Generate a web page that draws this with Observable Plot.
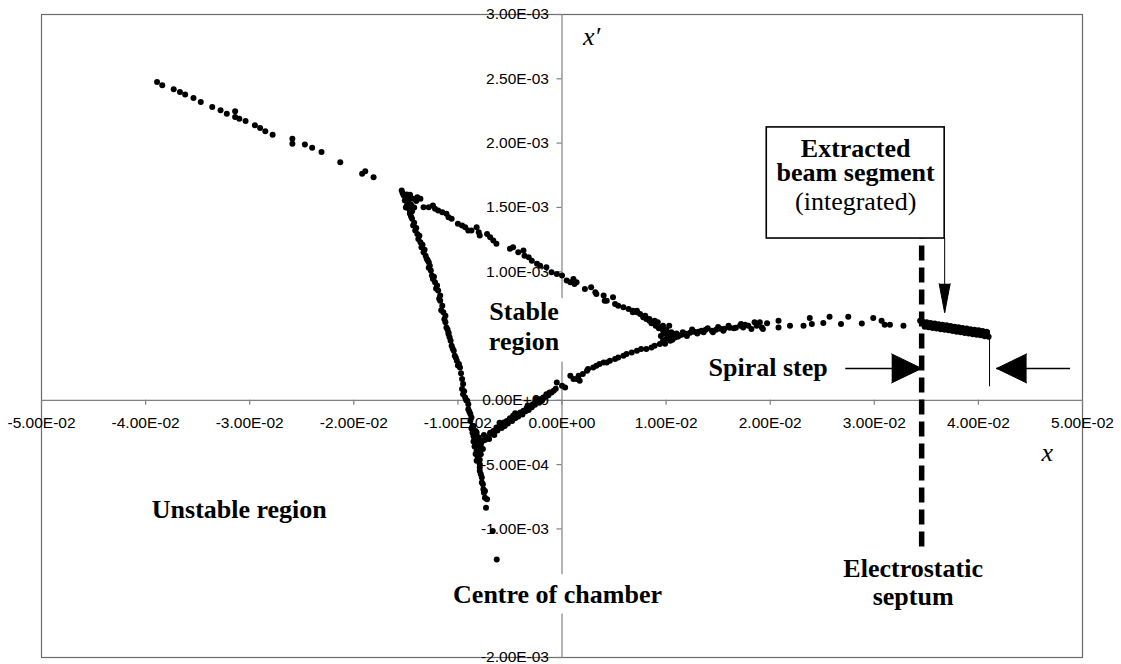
<!DOCTYPE html>
<html>
<head>
<meta charset="utf-8">
<script src="https://cdn.jsdelivr.net/npm/d3@7"></script>
<script src="https://cdn.jsdelivr.net/npm/@observablehq/plot@0.6"></script>
<style>
  html, body { margin: 0; padding: 0; background: #fff; }
  #chart svg { display: block; }
</style>
</head>
<body>
<div id="chart"></div>
<script>
// Units in the point lists: x in 1e-2, x' in 1e-3
const X_UNIT = 1e-2, Y_UNIT = 1e-3;

const xTicks = [-0.05, -0.04, -0.03, -0.02, -0.01, 0, 0.01, 0.02, 0.03, 0.04, 0.05];
const yTicks = [-0.002, -0.0015, -0.001, -0.0005, 0, 0.0005, 0.001, 0.0015, 0.002, 0.0025, 0.003];
// y tick labels that the reference's text boxes hide
const yHiddenLabels = [0.0005, -0.0015];

const upperTail = [[-3.89,2.475],[-3.84,2.449],[-3.73,2.418],[-3.67,2.397],[-3.62,2.377],[-3.54,2.350],[-3.47,2.319],[-3.36,2.280],[-3.28,2.255],[-3.22,2.229],[-3.14,2.247],[-3.14,2.202],[-3.10,2.190],[-3.04,2.171],[-2.95,2.138],[-2.90,2.117],[-2.85,2.093],[-2.78,2.065],[-2.59,2.034],[-2.59,1.995],[-2.47,1.990],[-2.40,1.964],[-2.31,1.930],[-2.13,1.852],[-1.92,1.762],[-1.89,1.782],[-1.81,1.735]];

const leftVertex = [[-1.54,1.632],[-1.52,1.593],[-1.51,1.554],[-1.49,1.515],[-1.47,1.489],[-1.46,1.598],[-1.43,1.567],[-1.39,1.579],[-1.36,1.567],[-1.50,1.58],[-1.48,1.54],[-1.45,1.52],[-1.47,1.56],[-1.42,1.50],[-1.44,1.47],[-1.49,1.60],[-1.40,1.55],[-1.53,1.61],[-1.50,1.50],[-1.46,1.45]];

const upperEdge = [[-1.33,1.502],[-1.28,1.502],[-1.24,1.515],[-1.22,1.489],[-1.19,1.476],[-1.15,1.463],[-1.11,1.450],[-1.09,1.424],[-1.06,1.411],[-1.00,1.372],[-0.96,1.359],[-0.93,1.346],[-0.90,1.320],[-0.87,1.320],[-0.82,1.346],[-0.80,1.307],[-0.79,1.281],[-0.72,1.294],[-0.69,1.268],[-0.66,1.242],[-0.63,1.217],[-0.50,1.178],[-0.47,1.190],[-0.42,1.151],[-0.37,1.164],[-0.36,1.125],[-0.32,1.112],[-0.29,1.086],[-0.24,1.061],[-0.21,1.047],[-0.15,1.034],[-0.10,0.995],[-0.05,0.983],[0.00,0.970],[0.045,0.931],[0.08,0.917],[0.11,0.944],[0.14,0.917],[0.12,0.905],[0.22,0.866],[0.28,0.879],[0.32,0.840],[0.33,0.827],[0.40,0.814],[0.41,0.775],[0.43,0.775],[0.49,0.801],[0.51,0.749],[0.54,0.736],[0.59,0.723],[0.64,0.710],[0.68,0.697],[0.68,0.684],[0.72,0.684],[0.72,0.697],[0.75,0.671],[0.78,0.645],[0.80,0.658],[0.81,0.632],[0.84,0.619],[0.84,0.632],[0.88,0.606],[0.89,0.619],[0.91,0.580],[0.92,0.606],[0.94,0.567],[0.97,0.541],[0.97,0.580],[1.00,0.528],[1.04,0.516],[1.07,0.516]];

const lowerLeftEdge = [[-1.46,1.463],[-1.44,1.411],[-1.43,1.359],[-1.41,1.320],[-1.39,1.294],[-1.38,1.255],[-1.36,1.229],[-1.35,1.190],[-1.33,1.151],[-1.31,1.125],[-1.30,1.100],[-1.28,1.073],[-1.27,1.047],[-1.26,1.009],[-1.25,0.970],[-1.24,0.944],[-1.22,0.917],[-1.20,0.892],[-1.19,0.853],[-1.17,0.814],[-1.17,0.775],[-1.15,0.736],[-1.14,0.684],[-1.12,0.658],[-1.12,0.606],[-1.11,0.567],[-1.09,0.528],[-1.09,0.516],[-1.07,0.463],[-1.06,0.424],[-1.04,0.386],[-1.03,0.347],[-1.01,0.308],[-0.99,0.282],[-0.98,0.255],[-0.97,0.21],[-0.96,0.165],[-0.95,0.126],[-0.96,0.087],[-0.95,0.048],[-0.93,0.022],[-0.91,-0.004],[-0.90,-0.030],[-0.90,-0.069],[-0.88,-0.107],[-0.87,-0.134],[-1.45,1.43],[-1.42,1.38],[-1.40,1.34],[-1.37,1.28],[-1.34,1.21],[-1.32,1.17],[-1.29,1.09],[-1.28,1.03],[-1.23,0.96],[-1.21,0.87],[-1.18,0.79],[-1.16,0.70],[-1.13,0.63],[-1.10,0.55],[-1.08,0.49],[-1.05,0.40],[-1.02,0.33],[-1.00,0.27],[-0.94,0.07],[-0.92,0.00],[-0.89,-0.09]];

const bottomCusp = [[-0.88,-0.160],[-0.85,-0.199],[-0.83,-0.238],[-0.86,-0.253],[-0.82,-0.276],[-0.84,-0.300],[-0.80,-0.315],[-0.83,-0.339],[-0.78,-0.347],[-0.81,-0.370],[-0.76,-0.378],[-0.79,-0.401],[-0.83,-0.417],[-0.81,-0.440],[-0.79,-0.463],[-0.82,-0.471],[-0.77,-0.323],[-0.74,-0.308],[-0.75,-0.269],[-0.71,-0.292],[-0.69,-0.253],[-0.86,-0.20],[-0.84,-0.36],[-0.80,-0.43],[-0.87,-0.22],[-0.85,-0.28],[-0.82,-0.25],[-0.80,-0.29],[-0.78,-0.31],[-0.85,-0.32],[-0.82,-0.39],[-0.78,-0.42]];

const bottomTail = [[-0.79,-0.497],[-0.79,-0.523],[-0.79,-0.549],[-0.78,-0.575],[-0.77,-0.601],[-0.77,-0.640],[-0.76,-0.653],[-0.755,-0.692],[-0.74,-0.705],[-0.75,-0.718],[-0.74,-0.757],[-0.72,-0.770],[-0.73,-0.835],[-0.665,-1.016],[-0.627,-1.237]];

const lowerRightEdge = [[-0.72,-0.290],[-0.69,-0.263],[-0.66,-0.238],[-0.63,-0.212],[-0.60,-0.199],[-0.56,-0.173],[-0.53,-0.160],[-0.50,-0.139],[-0.47,-0.121],[-0.43,-0.107],[-0.40,-0.095],[-0.37,-0.082],[-0.34,-0.061],[-0.31,-0.043],[-0.28,-0.030],[-0.24,-0.009],[-0.21,0.009],[-0.18,0.022],[-0.15,0.048],[-0.12,0.061],[-0.08,0.074],[-0.05,0.139],[0.00,0.113],[0.03,0.100],[0.08,0.191],[0.14,0.165],[0.20,0.204],[0.24,0.230],[-0.70,-0.300],[-0.65,-0.270],[-0.62,-0.235],[-0.58,-0.215],[-0.55,-0.200],[-0.52,-0.180],[-0.48,-0.160],[-0.45,-0.140],[-0.42,-0.125],[-0.38,-0.110],[-0.35,-0.085],[-0.32,-0.075],[-0.29,-0.055],[-0.26,-0.035],[-0.22,-0.020],[-0.19,0.000],[-0.16,0.025],[-0.13,0.040],[-0.10,0.060],[-0.06,0.090],[-0.25,0.010],[-0.33,-0.040],[-0.45,-0.100],[-0.60,-0.175],[0.11,0.165],[0.16,0.191],[0.17,0.152],[0.25,0.243],[0.30,0.255],[0.33,0.269],[0.36,0.282],[0.40,0.294],[0.43,0.294],[0.46,0.308],[0.51,0.321],[0.54,0.333],[0.59,0.347],[0.62,0.360],[0.67,0.372],[0.72,0.386],[0.76,0.399],[0.81,0.399],[0.86,0.411],[0.89,0.424],[0.94,0.438],[0.97,0.463],[1.00,0.477]];

const rightCusp = [[0.99,0.440],[1.04,0.463],[1.08,0.487],[1.06,0.502],[1.02,0.518],[1.11,0.495],[1.15,0.510],[1.19,0.518],[1.23,0.526],[1.27,0.533],[1.31,0.533],[1.34,0.541],[1.38,0.549],[1.44,0.541],[1.48,0.549],[1.52,0.557],[1.56,0.557],[1.61,0.565],[1.67,0.565],[1.71,0.580],[1.76,0.588],[0.95,0.50],[0.98,0.52],[1.02,0.49],[1.05,0.53],[1.10,0.52],[1.00,0.55],[1.06,0.47],[1.12,0.50],[1.16,0.53],[1.20,0.50],[1.25,0.55],[1.30,0.52],[1.36,0.53],[1.40,0.56],[1.45,0.53],[1.50,0.57],[1.55,0.54],[1.60,0.58],[1.65,0.56],[1.03,0.58],[0.93,0.56],[0.90,0.58],[0.86,0.60]];

const outerTail = [[1.72,0.593],[1.74,0.567],[1.79,0.580],[1.82,0.555],[1.85,0.606],[1.87,0.580],[1.90,0.606],[1.92,0.567],[1.93,0.555],[1.97,0.600],[2.08,0.619],[2.08,0.567],[2.19,0.580],[2.32,0.580],[2.38,0.640],[2.40,0.593],[2.51,0.601],[2.57,0.650],[2.68,0.593],[2.75,0.650],[2.88,0.598],[2.99,0.640],[3.07,0.619],[3.10,0.588],[3.15,0.588],[3.28,0.580],[3.44,0.619]];

const extractedSegment = [[3.465,0.611],[3.503,0.607],[3.541,0.602],[3.580,0.597],[3.618,0.592],[3.656,0.587],[3.695,0.583],[3.733,0.577],[3.772,0.572],[3.810,0.568],[3.848,0.563],[3.887,0.558],[3.925,0.553],[3.964,0.548],[4.002,0.544],[4.040,0.538],[4.079,0.533],[3.484,0.572],[3.522,0.568],[3.560,0.563],[3.599,0.558],[3.637,0.553],[3.676,0.548],[3.714,0.544],[3.752,0.538],[3.791,0.533],[3.829,0.529],[3.868,0.524],[3.906,0.519],[3.945,0.514],[3.983,0.509],[4.021,0.505],[4.060,0.499],[4.098,0.494]];

const segments = [upperTail, leftVertex, upperEdge, lowerLeftEdge, bottomCusp, bottomTail, lowerRightEdge, rightCusp, outerTail, extractedSegment];
const points = segments.flatMap(seg => seg.map(([a, b]) => ({x: a * X_UNIT, y: b * Y_UNIT})));
const yLabelTicks = yTicks.filter(v => !yHiddenLabels.includes(v));

function fmt(v) {
  if (Math.abs(v) < 1e-12) return "0.00E+00";
  const [m, e] = v.toExponential(2).split("e");
  const n = +e;
  return m + "E" + (n < 0 ? "-" : "+") + String(Math.abs(n)).padStart(2, "0");
}

const SERIF = "Liberation Serif, Times New Roman, serif";
const SANS = "Liberation Sans, Arial, sans-serif";
const AXIS = "#808080";
const boldText = {fontFamily: SERIF, fontWeight: "bold", fontSize: 26, fill: "black"};
const halo = {stroke: "white", strokeWidth: 24, strokeLinejoin: "round"};

const chart = Plot.plot({
  width: 1121, height: 664,
  marginLeft: 41, marginRight: 39, marginTop: 14, marginBottom: 7,
  x: {domain: [-0.05, 0.05], axis: null},
  y: {domain: [-0.002, 0.003], axis: null},
  style: {background: "white", fontFamily: SANS},
  marks: [
    Plot.frame({stroke: "#6a6a6a", strokeWidth: 1.2}),
    Plot.ruleY([0], {stroke: AXIS, strokeWidth: 1.2}),
    Plot.ruleX([0], {stroke: AXIS, strokeWidth: 1.2}),
    Plot.ruleX(xTicks, {x: d => d, y1: 0, y2: 0, insetBottom: -5, stroke: AXIS, strokeWidth: 1.2}),
    Plot.ruleY(yTicks, {y: d => d, x1: 0, x2: 0, insetLeft: -5, stroke: AXIS, strokeWidth: 1.2}),
    Plot.text(xTicks, {x: d => d, y: 0, text: fmt, dy: 22.5, fontSize: 15.5, fill: "black", fontFamily: SANS}),
    Plot.text(yLabelTicks, {x: 0, y: d => d, text: fmt, dx: -13, textAnchor: "end", fontSize: 15.5, fill: "black", fontFamily: SANS}),
    Plot.dot(points, {x: "x", y: "y", r: 3, fill: "black", stroke: "none"}),
    // electrostatic septum (dashed)
    Plot.ruleX([0.03455], {y1: -0.001141, y2: 0.001258, stroke: "black", strokeWidth: 5.5, strokeDasharray: "15,7"}),
    // extracted beam segment annotation box
    Plot.rect([0], {x1: 0.01967, x2: 0.03676, y1: 0.001258, y2: 0.002122, fill: "white", stroke: "black", strokeWidth: 1.6}),
    Plot.text(["Extracted\nbeam segment"], {x: 0.02821, y: 0.001860, text: d => d, lineHeight: 0.923, ...boldText}),
    Plot.text(["(integrated)"], {x: 0.02821, y: 0.001545, text: d => d, fontFamily: SERIF, fontSize: 26, fill: "black"}),
    Plot.ruleX([0.03676], {y1: 0.000681, y2: 0.001258, stroke: "black", strokeWidth: 1}),
    Plot.vector([0], {x: 0.03676, y: 0.000681, length: 29, r: 5.5, rotate: 180, anchor: "end", shape: "spike", fill: "black", stroke: "black", strokeWidth: 1}),
    // spiral step arrows
    Plot.ruleY([0.000248], {x1: 0.02726, x2: 0.03455, stroke: "black", strokeWidth: 1.5}),
    Plot.vector([0], {x: 0.03455, y: 0.000248, length: 30, r: 14.5, rotate: 90, anchor: "end", shape: "spike", fill: "black", stroke: "black", strokeWidth: 1}),
    Plot.ruleY([0.000248], {x1: 0.04175, x2: 0.04885, stroke: "black", strokeWidth: 1.5}),
    Plot.vector([0], {x: 0.04175, y: 0.000248, length: 30, r: 14.5, rotate: -90, anchor: "end", shape: "spike", fill: "black", stroke: "black", strokeWidth: 1}),
    Plot.ruleX([0.04107], {y1: 0.000105, y2: 0.000541, stroke: "black", strokeWidth: 1}),
    // annotations
    Plot.text(["Stable\nregion"], {x: -0.00365, y: 0.000583, text: d => d, lineHeight: 1.154, ...boldText, ...halo}),
    Plot.text(["Centre of chamber"], {x: -0.00043, y: -0.001512, text: d => d, ...boldText, ...halo}),
    Plot.text(["Unstable region"], {x: -0.0310, y: -0.000850, text: d => d, ...boldText}),
    Plot.text(["Spiral step"], {x: 0.02553, y: 0.000255, text: d => d, textAnchor: "end", ...boldText}),
    Plot.text(["Electrostatic\nseptum"], {x: 0.03373, y: -0.001412, text: d => d, lineHeight: 1.1, ...boldText, ...halo}),
    Plot.text(["x\u2032"], {x: 0.00202, y: 0.002826, text: d => d, textAnchor: "start", fontFamily: SERIF, fontStyle: "italic", fontSize: 26, fill: "black"}),
    Plot.text(["x"], {x: 0.04607, y: -0.000407, text: d => d, textAnchor: "start", fontFamily: SERIF, fontStyle: "italic", fontSize: 26, fill: "black"})
  ]
});
document.getElementById("chart").append(chart);
</script>
</body>
</html>
